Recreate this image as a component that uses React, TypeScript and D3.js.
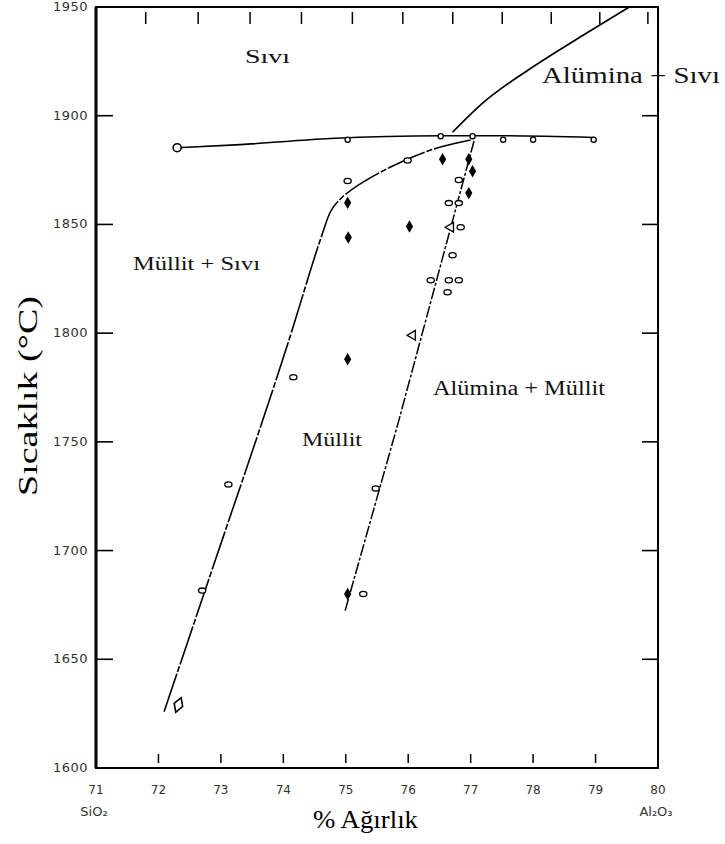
import * as d3 from 'd3';

// % weight Al2O3 (x) vs temperature in °C (y)
const xTicks = [71, 72, 73, 74, 75, 76, 77, 78, 79, 80];
const yTicks = [1600, 1650, 1700, 1750, 1800, 1850, 1900, 1950];
const molTicks = [60, 61, 62, 63, 64, 65, 66, 67, 68, 69, 70]; // top axis, mol % Al2O3

// phase boundaries [wt%, °C]
const liquidusFlat: [number, number][] = [
  [72.3, 1885.3], [73.31, 1886.7], [74.75, 1889.5], [76.52, 1890.8], [77.53, 1890.8], [78.97, 1890],
];
const mulliteLiquidus: [number, number][] = [
  [72.09, 1625.9], [72.8, 1686.2], [74.14, 1801.3], [74.59, 1842.7], [74.75, 1855.6],
  [74.91, 1861.6], [75.04, 1864.8], [75.44, 1872.2], [75.88, 1878.6], [76.36, 1884.2], [77.0, 1888.8],
];
const mulliteAlumina: [number, number][] = [
  [74.99, 1672.4], [75.85, 1759.9], [77.06, 1889],
];
const aluminaLiquidus: [number, number][] = [
  [76.71, 1892.4], [77.2, 1906], [78.0, 1922.5], [78.8, 1937], [79.54, 1950],
];

// experimental points
const filledDiamonds: [number, number][] = [
  [75.03, 1860], [75.04, 1844], [75.03, 1788], [76.02, 1849], [76.55, 1880],
  [76.97, 1880], [77.03, 1874.5], [76.97, 1864.4], [75.03, 1680],
];
const flatCircles: [number, number][] = [
  [75.03, 1889], [76.52, 1890.6], [77.03, 1890.6], [77.52, 1889], [78.0, 1889], [78.97, 1889],
];
const bigCircles: [number, number][] = [[72.3, 1885.3]];
const openDiamonds: [number, number][] = [[72.32, 1629]];
const openMarks: [number, number][] = [
  [72.7, 1681.6], [73.12, 1730.4], [74.16, 1779.7], [75.03, 1870], [75.28, 1680],
  [75.48, 1728.6], [75.99, 1879.4], [76.81, 1870.4], [76.65, 1859.8], [76.81, 1859.8],
  [76.84, 1848.7], [76.71, 1835.8], [76.36, 1824.3], [76.65, 1824.3], [76.81, 1824.3], [76.63, 1818.8],
];
const leftTriangles: [number, number][] = [[76.07, 1799], [76.68, 1848.7]];

const serif = "'Liberation Serif', 'Times New Roman', serif";

// mol % Al2O3 -> wt % Al2O3
const molToWt = (m: number) => (100 * m * 101.96) / (m * 101.96 + (100 - m) * 60.08);

export default function App() {
  const width = 725;
  const height = 844;
  const x = d3.scaleLinear().domain([71, 80]).range([96, 658]);
  const y = d3.scaleLinear().domain([1600, 1950]).range([768, 7]);

  const smooth = d3.line<[number, number]>().x(d => x(d[0])).y(d => y(d[1])).curve(d3.curveMonotoneX);
  const lin = d3.line<[number, number]>().x(d => x(d[0])).y(d => y(d[1]));

  const diamond = d3.symbol().type(d3.symbolDiamond).size(45)()!;
  const diamondOpen = d3.symbol().type(d3.symbolDiamond).size(70)()!;
  const tri = d3.symbol().type(d3.symbolTriangle).size(40)()!;

  const innerTicks = yTicks.slice(1, -1);

  return (
    <svg width={width} height={height} style={{ position: 'absolute', left: 0, top: 0, background: '#fff' }}>
      <rect width={width} height={height} fill="#fff" />

      {/* frame */}
      <rect x={x(71)} y={y(1950)} width={x(80) - x(71)} height={y(1600) - y(1950)}
        fill="none" stroke="#000" strokeWidth={2} />
      <line x1={x(71)} x2={x(71)} y1={y(1950)} y2={y(1600)} stroke="#000" strokeWidth={3} />

      {/* left / right ticks */}
      {innerTicks.map(t => (
        <g key={'yt' + t}>
          <line x1={x(71)} x2={x(71) + 17} y1={y(t)} y2={y(t)} stroke="#000" strokeWidth={1.6} />
          <line x1={x(80)} x2={x(80) - 16} y1={y(t)} y2={y(t)} stroke="#000" strokeWidth={1.6} />
        </g>
      ))}
      {yTicks.map(t => (
        <text key={'yl' + t} x={88} y={y(t) + 4} textAnchor="end" fontSize={13}
          fontFamily="'DejaVu Sans', sans-serif" fill="#333" letterSpacing={0.5}>{t}</text>
      ))}

      {/* bottom ticks */}
      {xTicks.slice(1, -1).map(t => (
        <line key={'xt' + t} x1={x(t)} x2={x(t)} y1={y(1600) - 14} y2={y(1600) - 5} stroke="#000" strokeWidth={1.5} />
      ))}
      {xTicks.map(t => (
        <text key={'xl' + t} x={x(t)} y={794} textAnchor="middle" fontSize={12}
          fontFamily="'DejaVu Sans', sans-serif" fill="#333">{t}</text>
      ))}

      {/* top ticks (mol %) */}
      {molTicks.map(m => (
        <line key={'mt' + m} x1={x(molToWt(m))} x2={x(molToWt(m))} y1={y(1950) + 5} y2={y(1950) + 17}
          stroke="#000" strokeWidth={1.5} />
      ))}

      {/* phase boundaries */}
      <path d={smooth(liquidusFlat) || ''} fill="none" stroke="#000" strokeWidth={1.6} />
      <path d={smooth(mulliteLiquidus) || ''} fill="none" stroke="#000" strokeWidth={1.6}
        strokeDasharray="40 2 6 2" />
      <path d={lin(mulliteAlumina) || ''} fill="none" stroke="#000" strokeWidth={1.5}
        strokeDasharray="12 2 3 2" />
      <path d={smooth(aluminaLiquidus) || ''} fill="none" stroke="#000" strokeWidth={1.7} />

      {/* experimental points */}
      {filledDiamonds.map((d, i) => (
        <path key={'fd' + i} d={diamond} transform={`translate(${x(d[0])},${y(d[1])})`} fill="#000" />
      ))}
      {openDiamonds.map((d, i) => (
        <path key={'od' + i} d={diamondOpen} transform={`translate(${x(d[0])},${y(d[1])}) rotate(20)`}
          fill="#fff" stroke="#000" strokeWidth={1.6} />
      ))}
      {bigCircles.map((d, i) => (
        <circle key={'bc' + i} cx={x(d[0])} cy={y(d[1])} r={4} fill="#fff" stroke="#000" strokeWidth={1.6} />
      ))}
      {flatCircles.map((d, i) => (
        <circle key={'fc' + i} cx={x(d[0])} cy={y(d[1])} r={2.6} fill="#fff" stroke="#000" strokeWidth={1.3} />
      ))}
      {openMarks.map((d, i) => (
        <ellipse key={'om' + i} cx={x(d[0])} cy={y(d[1])} rx={3.6} ry={2.6} fill="#fff" stroke="#000" strokeWidth={1.3} />
      ))}
      {leftTriangles.map((d, i) => (
        <path key={'lt' + i} d={tri} transform={`translate(${x(d[0])},${y(d[1])}) rotate(-90)`}
          fill="#fff" stroke="#000" strokeWidth={1.4} />
      ))}

      {/* region labels */}
      <g fontFamily={serif} fill="#111">
        <text x={245} y={63} fontSize={18} textLength={45} lengthAdjust="spacingAndGlyphs">Sıvı</text>
        <text x={542} y={83} fontSize={23} textLength={178} lengthAdjust="spacingAndGlyphs">Alümina + Sıvı</text>
        <text x={133} y={270} fontSize={19} textLength={127} lengthAdjust="spacingAndGlyphs">Müllit + Sıvı</text>
        <text x={302} y={446} fontSize={19} textLength={60} lengthAdjust="spacingAndGlyphs">Müllit</text>
        <text x={433} y={395} fontSize={20} textLength={172} lengthAdjust="spacingAndGlyphs">Alümina + Müllit</text>
      </g>

      {/* axis titles */}
      <text x={313} y={828} fontSize={26} fontFamily={serif} textLength={105} lengthAdjust="spacingAndGlyphs">% Ağırlık</text>
      <text transform="translate(37,396) rotate(-90)" textAnchor="middle" fontSize={28} fontFamily={serif}
        textLength={200} lengthAdjust="spacingAndGlyphs">Sıcaklık (°C)</text>
      <text x={94} y={816} textAnchor="middle" fontSize={13} fontFamily="'DejaVu Sans', sans-serif" fill="#333">SiO₂</text>
      <text x={656} y={816} textAnchor="middle" fontSize={13} fontFamily="'DejaVu Sans', sans-serif" fill="#333">Al₂O₃</text>
    </svg>
  );
}
